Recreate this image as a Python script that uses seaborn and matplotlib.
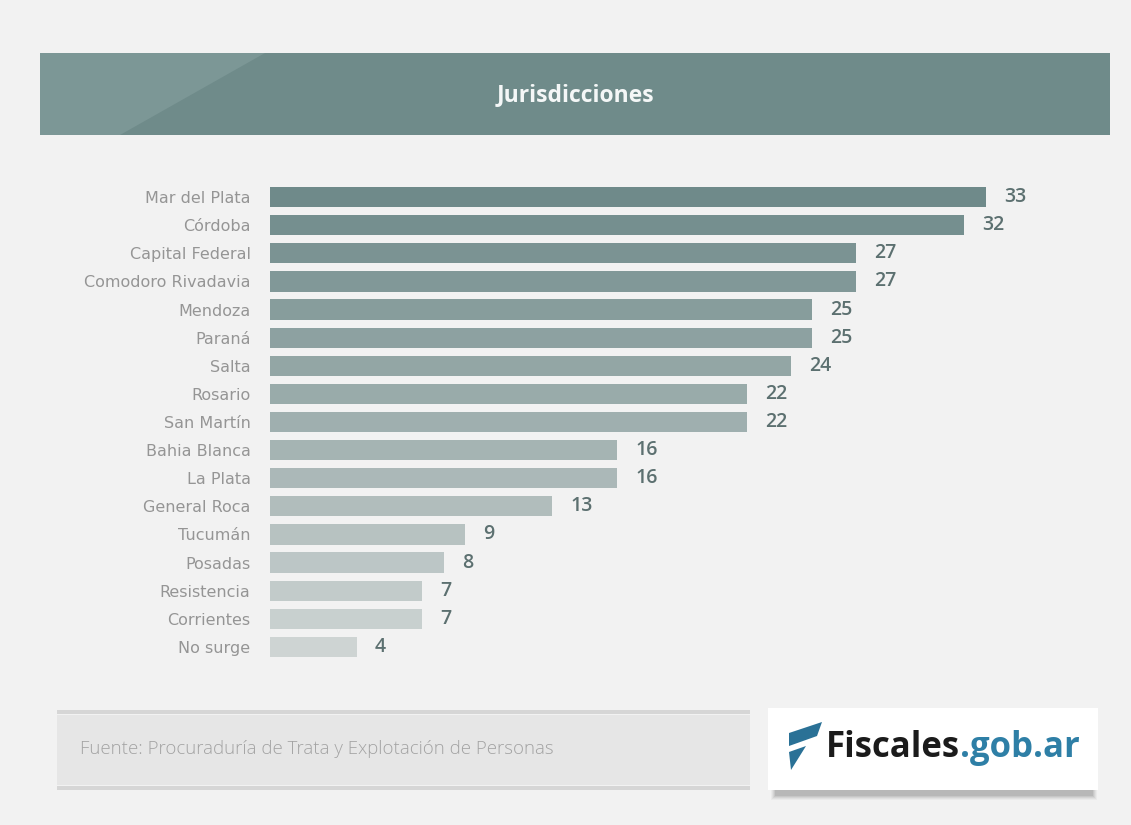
import matplotlib
matplotlib.use("Agg")
import matplotlib.pyplot as plt
from matplotlib.patches import Rectangle, Polygon
import seaborn as sns
import pandas as pd

# Cases by jurisdiction
jurisdicciones = [
    "Mar del Plata", "Córdoba", "Capital Federal", "Comodoro Rivadavia",
    "Mendoza", "Paraná", "Salta", "Rosario", "San Martín", "Bahia Blanca",
    "La Plata", "General Roca", "Tucumán", "Posadas", "Resistencia",
    "Corrientes", "No surge",
]
casos = [33, 32, 27, 27, 25, 25, 24, 22, 22, 16, 16, 13, 9, 8, 7, 7, 4]

titulo = "Jurisdicciones"
fuente = "Fuente: Procuraduría de Trata y Explotación de Personas"

W, H = 1131, 825
BG = "#f2f2f2"

sns.set_theme(style="white")
plt.rcParams["font.family"] = ["Open Sans", "DejaVu Sans"]

fig = plt.figure(figsize=(W / 100, H / 100), dpi=100, facecolor=BG)


def fx(px):
    return px / W


def fy(py):
    return 1 - py / H


def rect(x0, y0, x1, y1, **kw):
    fig.patches.append(Rectangle((fx(x0), fy(y1)), fx(x1 - x0), (y1 - y0) / H,
                                 transform=fig.transFigure, **kw))


def poly(pts, **kw):
    fig.patches.append(Polygon([(fx(x), fy(y)) for x, y in pts], closed=True,
                               transform=fig.transFigure, **kw))


# Header band with a lighter diagonal wedge
rect(40, 53, 1110, 135, facecolor="#6f8b8a", edgecolor="none", zorder=0)
poly([(40, 53), (265, 53), (120, 135), (40, 135)],
     facecolor="#7c9796", edgecolor="none", zorder=0)
fig.text(fx(575), fy(95), titulo, ha="center", va="center", color="#f4f7f7",
         fontsize=16.5, fontweight="bold")

# Bar chart
ax_left, ax_right = 270, 1110
ax_top, ax_bot = 183, 661
ax = fig.add_axes([fx(ax_left), fy(ax_bot), fx(ax_right - ax_left),
                   (ax_bot - ax_top) / H])
ax.set_facecolor("none")

df = pd.DataFrame({"jurisdiccion": jurisdicciones, "casos": casos})
palette = sns.blend_palette(["#6f8a8a", "#ced4d3"], len(jurisdicciones))
sns.barplot(data=df, x="casos", y="jurisdiccion", hue="jurisdiccion",
            palette=palette, legend=False, width=0.72, saturation=1,
            linewidth=0, ax=ax)

units_px = 716 / 33.0
ax.set_xlim(0, (ax_right - ax_left) / units_px)
ax.set_ylim(len(jurisdicciones) - 0.5, -0.5)
for c in ax.containers:
    ax.bar_label(c, padding=13, color="#5c7070", fontsize=14,
                 fontweight="semibold")

ax.set_xlabel("")
ax.set_ylabel("")
ax.set_xticks([])
ax.tick_params(axis="y", length=0, pad=14, labelsize=11.5,
               labelcolor="#959595")
for lbl in ax.get_yticklabels():
    lbl.set_fontfamily("DejaVu Sans")
for s in ax.spines.values():
    s.set_visible(False)

# Source footer
rect(57, 715, 750, 785, facecolor="#e6e6e6", edgecolor="none", zorder=0)
rect(57, 710, 750, 714, facecolor="#d6d6d6", edgecolor="none", zorder=0)
rect(57, 786, 750, 790, facecolor="#d6d6d6", edgecolor="none", zorder=0)
fig.text(fx(80), fy(749), fuente, ha="left", va="center", color="#a3a3a3",
         fontsize=13.4, fontweight="light")

# Logo card with soft shadow
for i, a in enumerate([0.03, 0.04, 0.05, 0.06, 0.07]):
    d = 5 - i
    rect(776 - d, 760, 1092 + d, 795 + d, facecolor="black", alpha=a,
         edgecolor="none", zorder=0)
rect(768, 708, 1098, 790, facecolor="white", edgecolor="none", zorder=1)
poly([(789, 733), (822, 722), (817, 736), (789, 746)],
     facecolor="#2a7196", edgecolor="none", zorder=2)
poly([(789, 752), (806, 746), (791, 770)],
     facecolor="#2a7196", edgecolor="none", zorder=2)
t1 = fig.text(fx(826), fy(748), "Fiscales", ha="left", va="center",
              color="#1b1b1b", fontsize=25, fontweight="bold", zorder=3)
fig.canvas.draw()
bb = t1.get_window_extent()
fig.text(bb.x1 / W, fy(748), ".gob.ar", ha="left", va="center",
         color="#2e7fa6", fontsize=25, fontweight="bold", zorder=3)

fig.savefig("out.png", dpi=100, facecolor=BG)
